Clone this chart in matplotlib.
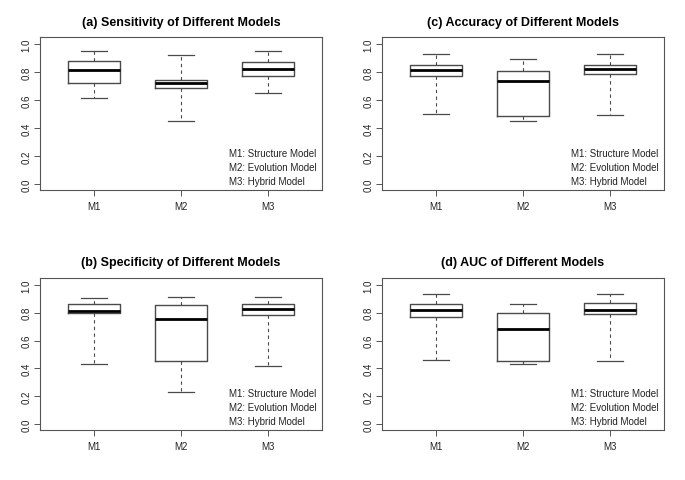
import matplotlib.pyplot as plt

plt.rcParams['font.family'] = ['Liberation Sans', 'DejaVu Sans']

models = ["M1", "M2", "M3"]
legend_lines = ["M1: Structure Model", "M2: Evolution Model", "M3: Hybrid Model"]

# box stats per model: whisker low, Q1, median, Q3, whisker high
sens_low = [0.612, 0.450, 0.648]
sens_q1 = [0.719, 0.688, 0.769]
sens_med = [0.814, 0.724, 0.824]
sens_q3 = [0.876, 0.740, 0.874]
sens_high = [0.948, 0.924, 0.948]

acc_low = [0.500, 0.450, 0.495]
acc_q1 = [0.769, 0.488, 0.783]
acc_med = [0.814, 0.736, 0.824]
acc_q3 = [0.852, 0.805, 0.852]
acc_high = [0.929, 0.890, 0.929]

spec_low = [0.429, 0.231, 0.414]
spec_q1 = [0.798, 0.455, 0.786]
spec_med = [0.812, 0.755, 0.826]
spec_q3 = [0.864, 0.855, 0.864]
spec_high = [0.907, 0.914, 0.914]

auc_low = [0.460, 0.429, 0.455]
auc_q1 = [0.767, 0.455, 0.790]
auc_med = [0.817, 0.686, 0.817]
auc_q3 = [0.864, 0.800, 0.867]
auc_high = [0.938, 0.860, 0.938]

panels = [
    ("(a) Sensitivity of Different Models", sens_low, sens_q1, sens_med, sens_q3, sens_high),
    ("(c) Accuracy of Different Models", acc_low, acc_q1, acc_med, acc_q3, acc_high),
    ("(b) Specificity of Different Models", spec_low, spec_q1, spec_med, spec_q3, spec_high),
    ("(d) AUC of Different Models", auc_low, auc_q1, auc_med, auc_q3, auc_high),
]

W, H = 685, 481
fig = plt.figure(figsize=(W / 100, H / 100), dpi=100)
fig.patch.set_facecolor('white')

# axes boxes in pixels: left, top, right, bottom
boxes = [(40, 38, 322, 191), (382, 38, 664, 191), (40, 279, 322, 431), (382, 279, 664, 431)]

edge = '#4a4a4a'
for (title, lo, q1, med, q3, hi), (l, t, r, b) in zip(panels, boxes):
    ax = fig.add_axes([l / W, 1 - b / H, (r - l) / W, (b - t) / H])
    stats = []
    for i in range(len(models)):
        stats.append(dict(whislo=lo[i], q1=q1[i], med=med[i], q3=q3[i], whishi=hi[i], fliers=[]))
    ax.bxp(stats, positions=[1, 2, 3], widths=0.6, capwidths=0.3, showfliers=False,
           boxprops=dict(color=edge, linewidth=1.0),
           medianprops=dict(color='black', linewidth=2.0),
           whiskerprops=dict(color=edge, linewidth=0.8, linestyle=(0, (3, 3))),
           capprops=dict(color=edge, linewidth=0.9))
    ax.set_xlim(0.38, 3.62)
    ax.set_ylim(-0.043, 1.05)
    ax.set_xticks([1, 2, 3], models)
    ax.set_yticks([0.0, 0.2, 0.4, 0.6, 0.8, 1.0], ["0.0", "0.2", "0.4", "0.6", "0.8", "1.0"])
    for lab in ax.get_yticklabels():
        lab.set_rotation(90)
        lab.set_va('center')
    ax.tick_params(axis='both', labelsize=7, color='#555555', labelcolor='#222222', length=4, width=0.7)
    ax.tick_params(axis='x', pad=4)
    ax.tick_params(axis='y', pad=2)
    for s in ax.spines.values():
        s.set_color('#555555')
        s.set_linewidth(0.8)
    ax.set_title(title, fontsize=9, fontweight='bold', pad=9)
    for k, txt in enumerate(legend_lines):
        ax.text(2.55, 0.22 - 0.1 * k, txt, fontsize=7, va='center', ha='left', color='#222222')

fig.savefig("out.png", dpi=100, facecolor='white')
